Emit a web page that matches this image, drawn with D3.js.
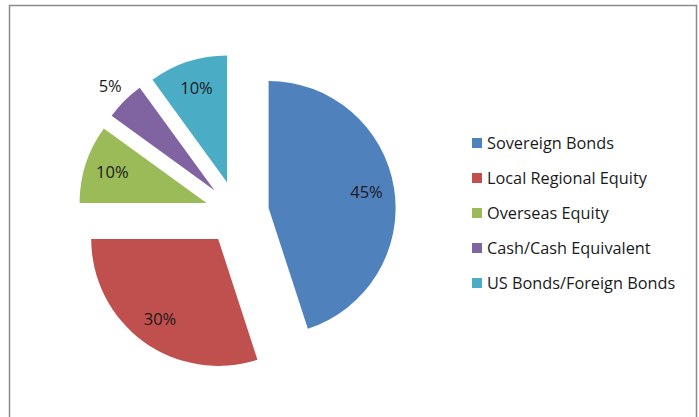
<html>
<head>
  <script src="https://d3js.org/d3.v7.min.js"></script>
  <style>
    body { margin: 0; background: white; }
    text { font-family: "Open Sans", sans-serif; fill: #1a1a1a; }
  </style>
</head>
<body>
  <svg width="699" height="417" id="chart"></svg>
  <script>
    // data
    const categories = ["Sovereign Bonds", "Local Regional Equity", "Overseas Equity", "Cash/Cash Equivalent", "US Bonds/Foreign Bonds"];
    const shares = [45, 30, 10, 5, 10];
    const labels = ["45%", "30%", "10%", "5%", "10%"];
    const colors = ["#4F81BD", "#C0504D", "#9BBB59", "#8064A2", "#4BACC6"];

    const svg = d3.select("#chart");

    // chart border (bottom runs off the picture)
    svg.append("rect")
      .attr("x", 9.5)
      .attr("y", 5.5)
      .attr("width", 687)
      .attr("height", 430)
      .attr("fill", "white")
      .attr("stroke", "#8a8a8a")
      .attr("stroke-width", 1.5);

    const cx = 237, cy = 213;
    const radius = 127;
    const explode = 32;

    const color = d3.scaleOrdinal().domain(categories).range(colors);

    const pie = d3.pie().sort(null).value(d => d.value);
    const arcs = pie(categories.map((c, i) => ({ name: c, value: shares[i], label: labels[i] })));

    const arc = d3.arc().innerRadius(0).outerRadius(radius);
    // centroid = (inner+outer)/2
    const labelArc = d3.arc().innerRadius(radius * 0.78).outerRadius(radius * 0.78);
    const outsideArc = d3.arc().innerRadius(radius * 1.16).outerRadius(radius * 1.16);

    const g = svg.append("g").attr("transform", `translate(${cx},${cy})`);

    const slices = g.selectAll("g.slice")
      .data(arcs)
      .join("g")
      .attr("class", "slice")
      .attr("transform", d => {
        const mid = (d.startAngle + d.endAngle) / 2;
        return `translate(${explode * Math.sin(mid)},${-explode * Math.cos(mid)})`;
      });

    slices.append("path")
      .attr("d", arc)
      .attr("fill", d => color(d.data.name));

    slices.append("text")
      .attr("transform", d => {
        const small = d.data.value < 8;
        const p = (small ? outsideArc : labelArc).centroid(d);
        return `translate(${p[0]},${p[1]})`;
      })
      .attr("text-anchor", "middle")
      .attr("dy", "0.35em")
      .style("font-size", "16.5px")
      .text(d => d.data.label);

    // legend
    const legendY = d3.scalePoint().domain(categories).range([143, 283]);
    const legend = svg.append("g");
    const rows = legend.selectAll("g")
      .data(categories)
      .join("g")
      .attr("transform", d => `translate(472,${legendY(d)})`);

    rows.append("rect")
      .attr("x", 0)
      .attr("y", -5)
      .attr("width", 10)
      .attr("height", 10)
      .attr("fill", d => color(d));

    rows.append("text")
      .attr("x", 15)
      .attr("dy", "0.35em")
      .style("font-size", "16.3px")
      .text(d => d);
  </script>
</body>
</html>
